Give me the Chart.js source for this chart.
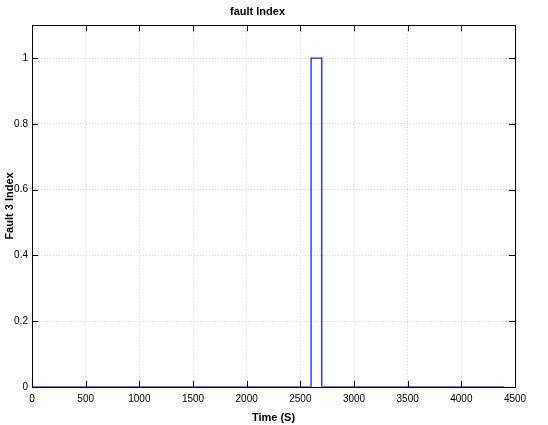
<!DOCTYPE html>
<html>
<head>
<meta charset="utf-8">
<script src="https://cdn.jsdelivr.net/npm/chart.js@4.4.1/dist/chart.umd.min.js"></script>
<style>
  html, body { margin: 0; padding: 0; background: #ffffff; }
  #wrap { width: 548px; height: 425px; }
</style>
</head>
<body>
<div id="wrap"><canvas id="c" width="548" height="425"></canvas></div>
<script>
// Step trace of the fault flag over time (vertices of the step line)
const timeSeconds = [0, 2600, 2600, 2700, 2700, 4400];
const faultIndex  = [0, 0, 1, 1, 0, 0];

// Axis ticks
const xTicks = [0, 500, 1000, 1500, 2000, 2500, 3000, 3500, 4000, 4500];
const yTicks = [0, 0.2, 0.4, 0.6, 0.8, 1];

const FONT = "'Liberation Sans Narrow', 'Liberation Sans', Arial, sans-serif";

const points = timeSeconds.map((t, i) => ({ x: t, y: faultIndex[i] }));

// Box around the plot area with inward-pointing tick marks on all four sides
const boxTicks = {
  id: 'boxTicks',
  afterDatasetsDraw(chart) {
    const { ctx, chartArea: a, scales: { x, y } } = chart;
    const len = 6;
    ctx.save();
    ctx.strokeStyle = '#000000';
    ctx.lineWidth = 1;
    ctx.beginPath();
    xTicks.forEach(v => {
      const px = Math.round(x.getPixelForValue(v)) + 0.5;
      ctx.moveTo(px, a.bottom); ctx.lineTo(px, a.bottom - len);
      ctx.moveTo(px, a.top);    ctx.lineTo(px, a.top + len);
    });
    yTicks.forEach(v => {
      const py = Math.round(y.getPixelForValue(v)) + 0.5;
      ctx.moveTo(a.left, py);  ctx.lineTo(a.left + len, py);
      ctx.moveTo(a.right, py); ctx.lineTo(a.right - len, py);
    });
    ctx.stroke();
    ctx.strokeRect(Math.round(a.left) + 0.5, Math.round(a.top) + 0.5,
                   Math.round(a.right - a.left), Math.round(a.bottom - a.top));
    ctx.restore();
  }
};

new Chart(document.getElementById('c'), {
  type: 'scatter',
  data: {
    datasets: [{
      data: points,
      showLine: true,
      borderColor: '#1a1aff',
      borderWidth: 1.3,
      pointRadius: 0,
      tension: 0,
      fill: false
    }]
  },
  options: {
    responsive: false,
    animation: false,
    layout: { padding: { left: 0, right: 33, top: 0, bottom: 0 } },
    plugins: {
      legend: { display: false },
      tooltip: { enabled: false },
      title: {
        display: true,
        text: 'fault Index',
        color: '#000000',
        font: { family: FONT, size: 11, weight: 'bold' },
        padding: { top: 5, bottom: 7 }
      }
    },
    scales: {
      x: {
        type: 'linear',
        min: 0,
        max: 4500,
        afterBuildTicks(scale) { scale.ticks = xTicks.map(v => ({ value: v })); },
        grid: {
          color: '#d4d4d4',
          lineWidth: 1,
          drawTicks: false
        },
        border: { display: false, dash: [1, 2] },
        ticks: {
          color: '#000000',
          font: { family: FONT, size: 10 },
          padding: 6,
          maxRotation: 0,
          callback: v => String(v)
        },
        title: {
          display: true,
          text: 'Time (S)',
          color: '#000000',
          font: { family: FONT, size: 11, weight: 'bold' },
          padding: { top: 1, bottom: 0 }
        }
      },
      y: {
        type: 'linear',
        min: 0,
        max: 1.1,
        afterBuildTicks(scale) { scale.ticks = yTicks.map(v => ({ value: v })); },
        afterFit(scale) { scale.width = 32; },
        grid: {
          color: '#d4d4d4',
          lineWidth: 1,
          drawTicks: false
        },
        border: { display: false, dash: [1, 2] },
        ticks: {
          color: '#000000',
          font: { family: FONT, size: 10 },
          padding: 4,
          callback: v => String(v)
        },
        title: {
          display: true,
          text: 'Fault 3 Index',
          color: '#000000',
          font: { family: 'Liberation Sans, Arial, sans-serif', size: 11, weight: 'bold' },
          padding: { top: 3, bottom: 0 }
        }
      }
    }
  },
  plugins: [boxTicks]
});
</script>
</body>
</html>
